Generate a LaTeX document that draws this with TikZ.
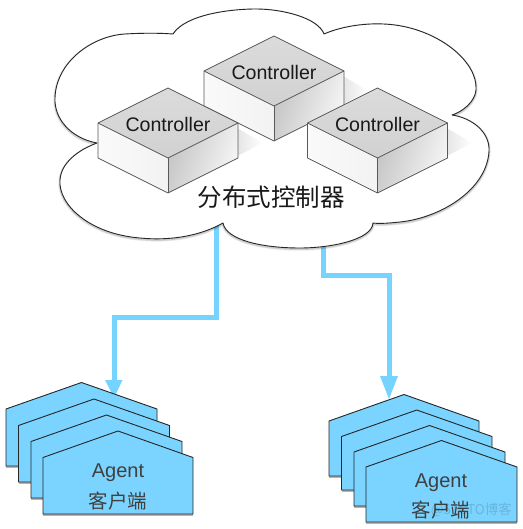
\documentclass[tikz,border=0pt]{standalone}
\usepackage{fontspec}
\setmainfont{Liberation Sans}
\newfontfamily\cjk{Noto Sans CJK SC}
\usetikzlibrary{fadings,arrows.meta}
\definecolor{agentblue}{RGB}{122,212,255}
\definecolor{linkblue}{RGB}{117,212,255}
\tikzfading[name=shadowfade,left color=transparent!50,right color=transparent!100]
\tikzset{
  x=1pt,y=-1pt,
  link/.style={draw=linkblue,line width=5pt},
  linkhead/.style={fill=linkblue,draw=none},
  agentbox/.style={fill=agentblue,draw=black!85,line width=0.9pt,line join=miter},
  agentshadow/.style={fill=black,opacity=.3,draw=none},
  edge/.style={draw=black!65,line width=0.8pt,line join=round},
  ctrltext/.style={font=\fontsize{19.6}{22}\selectfont,text=black!90,inner sep=0pt},
  agenttext/.style={font=\fontsize{20}{22}\selectfont,text=black!75,inner sep=0pt},
  cjktext/.style={font=\cjk\fontsize{19.5}{22}\selectfont,text=black!75,inner sep=0pt},
}
\newcommand{\cloudpath}{(173,34) .. controls (186,14) and (232,9) .. (256,9)
  .. controls (283,9) and (318,18) .. (324,34)
  .. controls (345,25) and (372,22) .. (395,25)
  .. controls (440,31) and (478,62) .. (476,90)
  .. controls (475,102) and (462,112) .. (452,115)
  .. controls (472,118) and (490,132) .. (489,151)
  .. controls (487,190) and (440,218) .. (400,222)
  .. controls (390,223) and (380,224) .. (373,223)
  .. controls (372,240) and (330,248) .. (300,248)
  .. controls (262,248) and (226,240) .. (223,223)
  .. controls (200,236) and (170,241) .. (140,238)
  .. controls (90,234) and (58,205) .. (60,180)
  .. controls (61,163) and (78,150) .. (97,143)
  .. controls (70,138) and (54,118) .. (55,98)
  .. controls (56,62) and (92,36) .. (125,34)
  .. controls (142,33) and (160,33) .. (173,34) -- cycle}
% controller box: #1 = apex x, #2 = apex y
\newcommand{\ctrlbox}[3]{%
  \fill[black,opacity=.2,path fading=shadowfade] (#1+69,#2+40) -- (#1+69,#2+68) -- (#1+95,#2+55) -- cycle;
  \shade[left color=white!98!black,right color=white!95!black] (#1-70,#2+35) -- (#1,#2+70) -- (#1,#2+105) -- (#1-70,#2+70) -- cycle;
  \shade[left color=black!23,right color=white!97!black,shading angle=70] (#1,#2+70) -- (#1+70,#2+35) -- (#1+70,#2+70) -- (#1,#2+105) -- cycle;
  \shade[top color=black!14,bottom color=black!18] (#1,#2) -- (#1+70,#2+35) -- (#1,#2+70) -- (#1-70,#2+35) -- cycle;
  \draw[edge] (#1,#2) -- (#1+70,#2+35) -- (#1+70,#2+70) -- (#1,#2+105) -- (#1-70,#2+70) -- (#1-70,#2+35) -- cycle;
  \draw[edge] (#1-70,#2+35) -- (#1,#2+70) -- (#1+70,#2+35);
  \draw[edge] (#1,#2+70) -- (#1,#2+105);
  \node[ctrltext,name=#3] at (#1,#2+36) {Controller};
}
% agent house: left, right, shoulder y, bottom y
\newcommand{\agenthouse}[4]{%
  \fill[agentshadow] (#1,#3+1.5) -- (#1,#4+2) -- (#2,#4+2) -- (#2,#3+1.5) -- cycle;
  \draw[agentbox] (#1,#3) -- ({(#1+#2)/2},#3-26.5) -- (#2,#3) -- (#2,#4) -- (#1,#4) -- cycle;
}
\begin{document}
\begin{tikzpicture}
\useasboundingbox (0,0) rectangle (522,529);
\fill[white] (0,0) rectangle (522,529);
% named connector ends
\coordinate (cloudL) at (216,225);
\coordinate (cloudR) at (323,230);
% connectors
\draw[link] (cloudL) |- (114,317) -- (114,381);
\fill[linkhead] (105,380) -- (122.5,380) -- (114,398) -- cycle;
\draw[link] (cloudR) |- (389,275) -- (389,377);
\fill[linkhead] (380,376) -- (398,376) -- (389,399) -- cycle;
% cloud
\draw[black,opacity=.08,line width=3.5pt,yshift=-1pt] \cloudpath;
\draw[black,opacity=.12,line width=2pt,yshift=-1pt] \cloudpath;
\draw[fill=white,draw=black!85,line width=0.9pt,line join=round] \cloudpath;
% controllers
\ctrlbox{274}{36}{c2}
\ctrlbox{168}{88}{c1}
\ctrlbox{377.5}{88}{c3}
\node[font=\cjk\fontsize{24.5}{26}\selectfont,text=black!90,inner sep=0pt] (dist) at (271,197) {分布式控制器};
% left agents
\agenthouse{6}{157}{409}{466}
\agenthouse{18.5}{169.5}{425.5}{482}
\agenthouse{31}{182}{441.5}{498}
\agenthouse{43}{193}{457.5}{514}
\node[agenttext] (a1) at (118,473) {Agent};
\node[cjktext] (a1c) at (118,501) {客户端};
% right agents
\agenthouse{329}{479}{421}{476}
\agenthouse{341.5}{492}{436.5}{490}
\agenthouse{354}{505}{452}{506}
\agenthouse{366}{517}{467}{522}
\node[agenttext] (a2) at (441,483) {Agent};
\node[cjktext] (a2c) at (441,510) {客户端};
\node[font=\cjk\fontsize{13.5}{15}\selectfont,text=black,opacity=.14,inner sep=0pt,anchor=east] (mark) at (512,510) {@51CTO博客};
\end{tikzpicture}
\end{document}
